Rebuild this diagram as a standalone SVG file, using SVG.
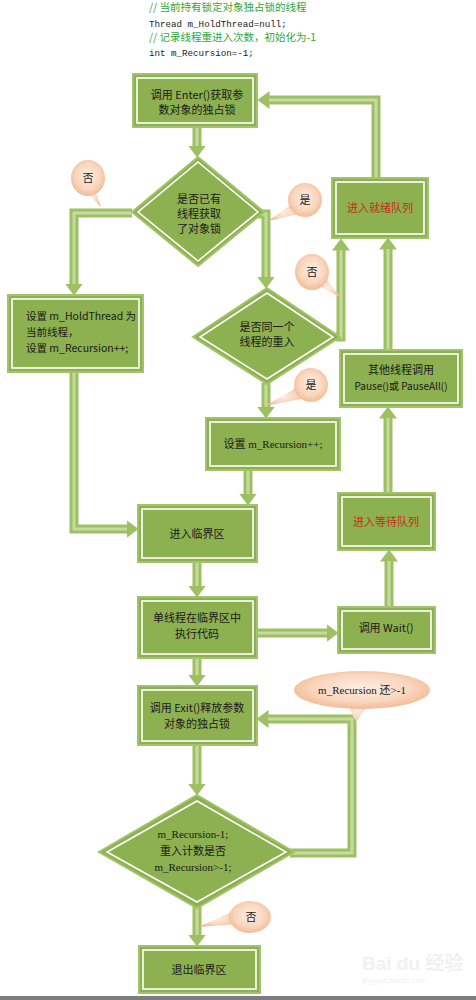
<svg xmlns="http://www.w3.org/2000/svg" width="476" height="1000" viewBox="0 0 476 1000">
<defs>
<style>
.bg{fill:#ffffff}
.box{fill:#8db050;stroke:#a3c36a;stroke-width:2}
.inner{fill:none;stroke:#ffffff;stroke-width:1.6}
.bar{fill:none;stroke:#9fbf63;stroke-width:9;stroke-linejoin:miter}
.hl{fill:none;stroke:#c4dca0;stroke-width:3;stroke-linejoin:miter}
.t{font-family:"Noto Sans CJK SC","Noto Sans",sans-serif;font-size:11px;fill:#1a1a1a;text-anchor:middle}
.tl{font-family:"Noto Sans CJK SC","Noto Sans",sans-serif;font-size:10.5px;fill:#1a1a1a}
.ts{font-family:"Liberation Serif","Noto Sans CJK SC",serif;font-size:11px;fill:#1a1a1a;text-anchor:middle}
.red{fill:#c62e16}
.cm{font-family:"Noto Sans CJK SC","Noto Sans",sans-serif;font-size:10.5px;fill:#2fa83a}
.code{font-family:"Liberation Mono","Noto Sans CJK SC",monospace;font-size:9.2px;fill:#222222}
.bub{fill:url(#peach)}
.ct{font-family:"Noto Sans CJK SC",sans-serif;font-size:11px;fill:#222222;text-anchor:middle}
.wm{font-family:"Liberation Sans","Noto Sans CJK SC",sans-serif;fill:#f1f1f1}
</style>
<radialGradient id="peach" cx="0.5" cy="0.45" r="0.6">
<stop offset="0" stop-color="#fdeee3"/>
<stop offset="0.6" stop-color="#f9d6bd"/>
<stop offset="1" stop-color="#f2b48c"/>
</radialGradient>
<marker id="ah" markerUnits="userSpaceOnUse" markerWidth="14" markerHeight="20" refX="0.5" refY="9" orient="auto" viewBox="0 0 14 18">
<path d="M0,0 L12,9 L0,18 z" fill="#9fbf63"/>
</marker>
</defs>
<rect class="bg" x="0" y="0" width="476" height="1000"/>

<g id="header">
<text class="cm" x="149" y="11">// 当前持有锁定对象独占锁的线程</text>
<text class="code" x="149" y="27">Thread m_HoldThread=null;</text>
<text class="cm" x="149" y="41">// 记录线程重进入次数，初始化为-1</text>
<text class="code" x="149" y="56">int m_Recursion=-1;</text>
</g>

<g id="connectors">
<path class="bar" d="M197,127 V146" marker-end="url(#ah)"/>
<path class="hl" d="M197,127 V146"/>
<path class="bar" d="M132,213 H74 V284" marker-end="url(#ah)"/>
<path class="hl" d="M132,213 H74 V284"/>
<path class="bar" d="M258,214 H266 V277" marker-end="url(#ah)"/>
<path class="hl" d="M258,214 H266 V277"/>
<path class="bar" d="M336,337 H341 V250" marker-end="url(#ah)"/>
<path class="hl" d="M336,337 H341 V250"/>
<path class="bar" d="M376,178 V100 H269" marker-end="url(#ah)"/>
<path class="hl" d="M376,178 V100 H269"/>
<path class="bar" d="M266,383 V407" marker-end="url(#ah)"/>
<path class="hl" d="M266,383 V407"/>
<path class="bar" d="M248,470 V494" marker-end="url(#ah)"/>
<path class="hl" d="M248,470 V494"/>
<path class="bar" d="M74,372 V529 H127" marker-end="url(#ah)"/>
<path class="hl" d="M74,372 V529 H127"/>
<path class="bar" d="M197,562 V586" marker-end="url(#ah)"/>
<path class="hl" d="M197,562 V586"/>
<path class="bar" d="M257,633 H327" marker-end="url(#ah)"/>
<path class="hl" d="M257,633 H327"/>
<path class="bar" d="M389,607 V561" marker-end="url(#ah)"/>
<path class="hl" d="M389,607 V561"/>
<path class="bar" d="M388,493 V418" marker-end="url(#ah)"/>
<path class="hl" d="M388,493 V418"/>
<path class="bar" d="M388,350 V249" marker-end="url(#ah)"/>
<path class="hl" d="M388,350 V249"/>
<path class="bar" d="M197,658 V675" marker-end="url(#ah)"/>
<path class="hl" d="M197,658 V675"/>
<path class="bar" d="M197,745 V784" marker-end="url(#ah)"/>
<path class="hl" d="M197,745 V784"/>
<path class="bar" d="M290,853 H352 V719 H268" marker-end="url(#ah)"/>
<path class="hl" d="M290,853 H352 V719 H268"/>
<path class="bar" d="M197,906 V935" marker-end="url(#ah)"/>
<path class="hl" d="M197,906 V935"/>
</g>

<g id="n-enter">
<rect class="box" x="133" y="74" width="124" height="53"/>
<rect class="inner" x="137" y="78" width="116" height="45"/>
<text class="t" x="197" y="99">调用 Enter()获取参</text>
<text class="t" x="197" y="114">数对象的独占锁</text>
</g>

<g id="n-check-held">
<polygon class="box" points="198,157 264,212 198,266 132,212"/>
<polygon class="inner" points="198,162 258,212 198,261 138,212"/>
<text class="t" x="199" y="203">是否已有</text>
<text class="t" x="199" y="218">线程获取</text>
<text class="t" x="199" y="233">了对象锁</text>
</g>

<g id="n-set-hold">
<rect class="box" x="8" y="295" width="135" height="77"/>
<rect class="inner" x="12" y="299" width="127" height="69"/>
<text class="tl" x="26" y="320">设置 m_HoldThread 为</text>
<text class="tl" x="26" y="336">当前线程，</text>
<text class="tl" x="26" y="352">设置 m_Recursion++;</text>
</g>

<g id="n-same-thread">
<polygon class="box" points="267,288 340,337 267,384 193,337"/>
<polygon class="inner" points="267,293 333,337 267,379 200,337"/>
<text class="t" x="267" y="331">是否同一个</text>
<text class="t" x="267" y="346">线程的重入</text>
</g>

<g id="n-set-rec">
<rect class="box" x="206" y="418" width="134" height="52"/>
<rect class="inner" x="210" y="422" width="126" height="44"/>
<text class="ts" x="273" y="448">设置 m_Recursion++;</text>
</g>

<g id="n-ready">
<rect class="box" x="332" y="178" width="96" height="60"/>
<rect class="inner" x="336" y="182" width="88" height="52"/>
<text class="t red" x="380" y="212">进入就绪队列</text>
</g>

<g id="n-other">
<rect class="box" x="340" y="350" width="122" height="57"/>
<rect class="inner" x="344" y="354" width="114" height="49"/>
<text class="t" x="401" y="374">其他线程调用</text>
<text class="t" x="401" y="390" style="font-size:10px">Pause()或 PauseAll()</text>
</g>

<g id="n-wait-queue">
<rect class="box" x="338" y="493" width="97" height="57"/>
<rect class="inner" x="342" y="497" width="89" height="49"/>
<text class="t red" x="386" y="526">进入等待队列</text>
</g>

<g id="n-enter-cs">
<rect class="box" x="138" y="505" width="119" height="57"/>
<rect class="inner" x="142" y="509" width="111" height="49"/>
<text class="t" x="197" y="538">进入临界区</text>
</g>

<g id="n-exec">
<rect class="box" x="138" y="597" width="119" height="61"/>
<rect class="inner" x="142" y="601" width="111" height="53"/>
<text class="t" x="197" y="622">单线程在临界区中</text>
<text class="t" x="197" y="638">执行代码</text>
</g>

<g id="n-wait">
<rect class="box" x="338" y="607" width="97" height="46"/>
<rect class="inner" x="342" y="611" width="89" height="38"/>
<text class="t" x="386" y="632">调用 Wait()</text>
</g>

<g id="n-exit">
<rect class="box" x="138" y="686" width="119" height="59"/>
<rect class="inner" x="142" y="690" width="111" height="51"/>
<text class="t" x="197" y="712">调用 Exit()释放参数</text>
<text class="t" x="197" y="728">对象的独占锁</text>
</g>

<g id="n-check-rec">
<polygon class="box" points="197,795 294,852 197,908 99,852"/>
<polygon class="inner" points="197,801 286,852 197,902 107,852"/>
<text class="ts" x="193" y="838">m_Recursion-1;</text>
<text class="t" x="193" y="855">重入计数是否</text>
<text class="ts" x="193" y="871">m_Recursion&gt;-1;</text>
</g>

<g id="n-leave">
<rect class="box" x="139" y="946" width="121" height="47"/>
<rect class="inner" x="143" y="950" width="113" height="39"/>
<text class="t" x="199" y="974">退出临界区</text>
</g>

<g id="callouts">
<g id="c-no1">
<polygon class="bub" points="82,188 95,190 101,207"/>
<ellipse class="bub" cx="88" cy="178" rx="17" ry="18"/>
<text class="ct" x="88" y="182">否</text>
</g>
<g id="c-yes1">
<polygon class="bub" points="292,204 299,214 268,221"/>
<ellipse class="bub" cx="305" cy="200" rx="17" ry="17"/>
<text class="ct" x="305" y="204">是</text>
</g>
<g id="c-no2">
<polygon class="bub" points="316,284 327,280 341,298"/>
<ellipse class="bub" cx="312" cy="272" rx="17" ry="18"/>
<text class="ct" x="312" y="276">否</text>
</g>
<g id="c-yes2">
<polygon class="bub" points="296,388 301,399 265,406"/>
<ellipse class="bub" cx="311" cy="385" rx="17" ry="17"/>
<text class="ct" x="311" y="389">是</text>
</g>
<g id="c-rec">
<polygon class="bub" points="345,700 370,702 356,722"/>
<ellipse class="bub" cx="362" cy="690" rx="68" ry="19"/>
<text class="ts" x="362" y="694">m_Recursion 还&gt;-1</text>
</g>
<g id="c-no3">
<polygon class="bub" points="234,911 236,924 198,927"/>
<ellipse class="bub" cx="250" cy="917" rx="21" ry="16"/>
<text class="ct" x="251" y="921">否</text>
</g>
</g>

<g id="watermark">
<text class="wm" x="362" y="970" style="font-size:19px;font-weight:bold">Bai du 经验</text>
<text class="wm" x="362" y="983" style="font-size:8px">jingyan.baidu.com</text>
</g>
<rect x="0" y="996" width="476" height="4" fill="#7d7d7d"/>
</svg>
